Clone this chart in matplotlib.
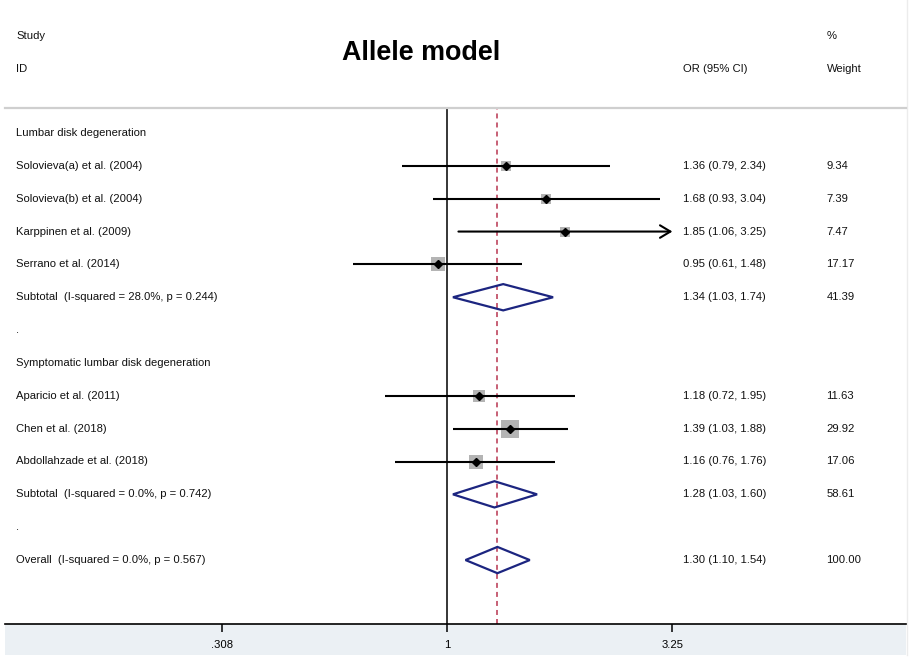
import numpy as np
import matplotlib
matplotlib.use("Agg")
import matplotlib.pyplot as plt
from matplotlib.patches import Polygon, Rectangle
from matplotlib.lines import Line2D
import matplotlib.transforms as mtransforms

plt.rcParams['font.family'] = ['Liberation Sans', 'DejaVu Sans']
plt.rcParams['lines.scale_dashes'] = False

# ---------------- data ----------------
title = "Allele model"
row_labels = [
    "Lumbar disk degeneration",
    "Solovieva(a) et al. (2004)",
    "Solovieva(b) et al. (2004)",
    "Karppinen et al. (2009)",
    "Serrano et al. (2014)",
    "Subtotal  (I-squared = 28.0%, p = 0.244)",
    ".",
    "Symptomatic lumbar disk degeneration",
    "Aparicio et al. (2011)",
    "Chen et al. (2018)",
    "Abdollahzade et al. (2018)",
    "Subtotal  (I-squared = 0.0%, p = 0.742)",
    ".",
    "Overall  (I-squared = 0.0%, p = 0.567)",
]

study_rows = [1, 2, 3, 4, 8, 9, 10]
study_or = [1.36, 1.68, 1.85, 0.95, 1.18, 1.39, 1.16]
study_lo = [0.79, 0.93, 1.06, 0.61, 0.72, 1.03, 0.76]
study_hi = [2.34, 3.04, 3.25, 1.48, 1.95, 1.88, 1.76]
study_w = [9.34, 7.39, 7.47, 17.17, 11.63, 29.92, 17.06]

sum_rows = [5, 11, 13]
sum_or = [1.34, 1.28, 1.30]
sum_lo = [1.03, 1.03, 1.10]
sum_hi = [1.74, 1.60, 1.54]
sum_w = [41.39, 58.61, 100.00]

tick_vals = [0.308, 1, 3.25]
tick_labels = [".308", "1", "3.25"]

# ---------------- layout ----------------
W, H = 913, 661
fig = plt.figure(figsize=(W / 100, H / 100), dpi=100)
fig.patch.set_facecolor('white')

def fx(px):
    return px / W

def fy(py):
    return 1 - py / H

left_px, right_px = 5, 906
top_px, bot_px = 108, 624.3
one_px = 447.3
px_per_ln = 191.0
row0_px, row_step = 133.0, 32.85

# bottom band (behind the axes)
fig.patches.append(Rectangle((fx(left_px), fy(655)), fx(right_px - left_px), (655 - bot_px) / H,
                             transform=fig.transFigure, facecolor='#ebf0f4', edgecolor='none', zorder=-5))
# faint right border
fig.lines.append(Line2D([fx(906.5), fx(906.5)], [fy(0), fy(655)], transform=fig.transFigure,
                        color='#ececec', lw=1.0, zorder=-4))

ax = fig.add_axes([fx(left_px), fy(bot_px), fx(right_px - left_px), (bot_px - top_px) / H])
ax.set_zorder(2)
ax.set_xscale('log')
ax.set_xlim(np.exp((left_px - one_px) / px_per_ln), np.exp((right_px - one_px) / px_per_ln))
ax.set_ylim((bot_px - row0_px) / row_step, (top_px - row0_px) / row_step)
ax.patch.set_alpha(0)

for s in ['left', 'right']:
    ax.spines[s].set_visible(False)
ax.spines['top'].set_color('#cfcfcf')
ax.spines['top'].set_linewidth(1.6)
ax.spines['bottom'].set_color('black')
ax.spines['bottom'].set_linewidth(1.2)

ax.set_xticks(tick_vals)
ax.set_xticklabels(tick_labels)
ax.xaxis.set_minor_locator(matplotlib.ticker.NullLocator())
ax.tick_params(axis='x', direction='out', length=6, width=1.1, pad=5, labelsize=8.1, colors='black')
ax.set_yticks([])

# reference lines
ax.axvline(1, color='black', lw=1.1, zorder=1)
ax.axvline(sum_or[-1], color='#b8344f', lw=1.1, dashes=(3.6, 2.9), zorder=1)

# studies
axis_max = tick_vals[-1]
for r, o, lo, hi, w in zip(study_rows, study_or, study_lo, study_hi, study_w):
    ax.scatter([o], [r], marker='s', s=5.8 * w, color='#b4b4b4', zorder=2, linewidths=0)
    if hi >= axis_max:
        ax.annotate('', xy=(axis_max, r), xytext=(lo, r),
                    arrowprops=dict(arrowstyle='->,head_length=0.75,head_width=0.45',
                                    lw=1.5, color='black', shrinkA=0, shrinkB=0,
                                    mutation_scale=10), zorder=3)
    else:
        ax.hlines(r, lo, hi, color='black', lw=1.5, zorder=3)
    ax.plot([o], [r], marker='D', ms=4.2, color='black', zorder=4)

# summary diamonds
h = 0.4
for r, o, lo, hi in zip(sum_rows, sum_or, sum_lo, sum_hi):
    poly = Polygon([(lo, r), (o, r - h), (hi, r), (o, r + h)], closed=True,
                   facecolor='none', edgecolor='#1c2580', lw=1.6, zorder=4)
    ax.add_patch(poly)

# text columns
fs = 8.1
tc = '#111111'
trans = mtransforms.blended_transform_factory(fig.transFigure, ax.transData)
for i, lab in enumerate(row_labels):
    ax.text(fx(16), i, lab, transform=trans, ha='left', va='center', fontsize=fs, color=tc, clip_on=False)

all_rows = study_rows + sum_rows
all_or = study_or + sum_or
all_lo = study_lo + sum_lo
all_hi = study_hi + sum_hi
all_w = study_w + sum_w
for r, o, lo, hi, w in zip(all_rows, all_or, all_lo, all_hi, all_w):
    ax.text(fx(683), r, f"{o:.2f} ({lo:.2f}, {hi:.2f})", transform=trans, ha='left', va='center',
            fontsize=fs, color=tc, clip_on=False)
    ax.text(fx(826.5), r, f"{w:.2f}", transform=trans, ha='left', va='center',
            fontsize=fs, color=tc, clip_on=False)

# headers
fig.text(fx(16), fy(35.7), "Study", ha='left', va='center', fontsize=fs, color=tc)
fig.text(fx(16), fy(68.5), "ID", ha='left', va='center', fontsize=fs, color=tc)
fig.text(fx(683), fy(68.5), "OR (95% CI)", ha='left', va='center', fontsize=fs, color=tc)
fig.text(fx(826.5), fy(35.7), "%", ha='left', va='center', fontsize=fs, color=tc)
fig.text(fx(826.5), fy(68.5), "Weight", ha='left', va='center', fontsize=fs, color=tc)
fig.text(fx(421), fy(60), title, ha='center', va='baseline', fontsize=19.4, fontweight='bold', color='black')

fig.savefig("out.png", dpi=100)
